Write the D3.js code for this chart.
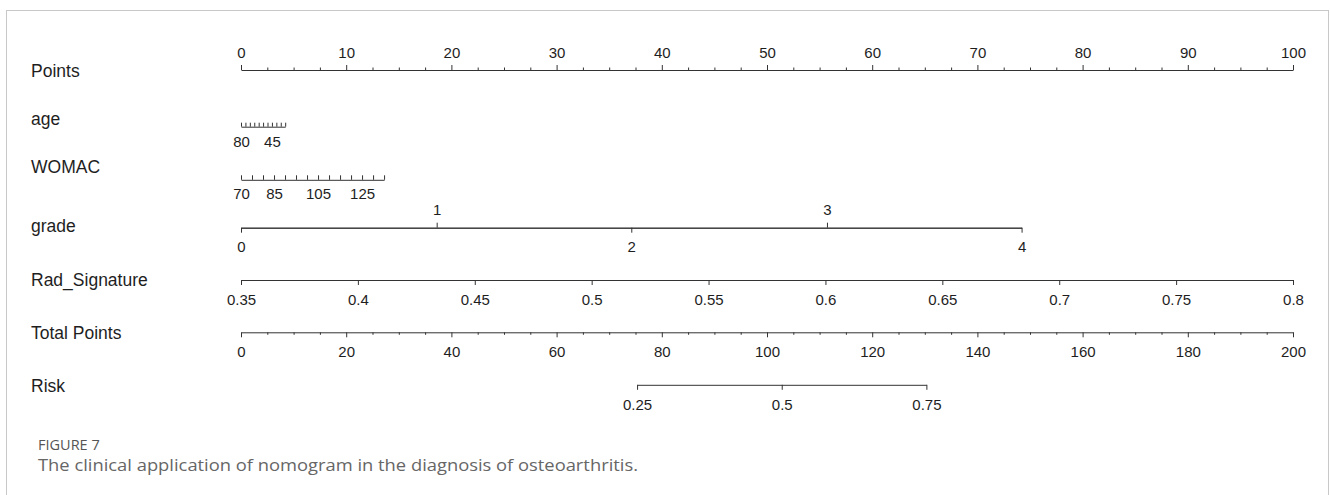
<!DOCTYPE html>
<html><head><meta charset="utf-8">
<script src="https://cdn.jsdelivr.net/npm/d3@7"></script>
<style>
html,body{margin:0;padding:0;background:#fff;}
svg{display:block;}
</style></head><body>
<svg id="chart" width="1330" height="495"></svg>
<script>
// ---------- data ----------
const rowLabels = ["Points","age","WOMAC","grade","Rad_Signature","Total Points","Risk"];

const pointsTicks = [0,10,20,30,40,50,60,70,80,90,100];
const pointsMinor = [2.5,5,7.5,12.5,15,17.5,22.5,25,27.5,32.5,35,37.5,42.5,45,47.5,52.5,55,57.5,62.5,65,67.5,72.5,75,77.5,82.5,85,87.5,92.5,95,97.5];

const ageValues = [80,75,70,65,60,55,50,45,40,35,30];
const ageLabels = [80,45];
const ageRange = [80,30];
const agePoints = [0,4.2];

const womacValues = [70,75,80,85,90,95,100,105,110,115,120,125,130,135];
const womacLabels = [70,85,105,125];
const womacRange = [70,135];
const womacPoints = [0,13.6];

const gradeValues = [0,1,2,3,4];
const gradePoints = [0,18.6,37.1,55.7,74.2];
const gradeLabelsTop = [1,3];
const gradeLabelsBottom = [0,2,4];

const radValues = [0.35,0.4,0.45,0.5,0.55,0.6,0.65,0.7,0.75,0.8];
const radRange = [0.35,0.8];
const radPoints = [0,100];

const totalTicks = [0,20,40,60,80,100,120,140,160,180,200];
const totalMinor = [5,10,15,25,30,35,45,50,55,65,70,75,85,90,95,105,110,115,125,130,135,145,150,155,165,170,175,185,190,195];

const riskValues = [0.25,0.5,0.75];
const riskTotalPoints = [75.3,102.8,130.3];

// ---------- layout ----------
const svg = d3.select("#chart");
const X0 = 241, X1 = 1293;
const xPoints = d3.scaleLinear().domain([0,100]).range([X0,X1]);
const xTotal = d3.scaleLinear().domain([0,200]).range([X0,X1]);
const FONT = "'Liberation Sans', Arial, Helvetica, sans-serif";
const INK = "#1e1e1e";
const LINE = "#333";

// frame
svg.append("rect").attr("x",6.5).attr("y",10.5).attr("width",1322).attr("height",520)
  .attr("fill","none").attr("stroke","#c8c8c8").attr("stroke-width",1);

// row labels
const labelBaselines = [76.7,125,173.3,232.3,286,339.3,391.7];
svg.selectAll("text.rowlab").data(rowLabels).join("text")
  .attr("class","rowlab")
  .attr("x",31).attr("y",(d,i)=>labelBaselines[i])
  .attr("font-family",FONT).attr("font-size",17.5).attr("fill",INK)
  .text(d=>d);

const fmt = d => String(+d.toFixed(3));

function drawAxis(y, scale, values, labels, orient, tickLen, labelOffset, showDomain=true) {
  const labelSet = new Set(labels);
  const axis = (orient === "top" ? d3.axisTop(scale) : d3.axisBottom(scale))
    .tickValues(values).tickSize(tickLen).tickSizeOuter(0)
    .tickFormat(d => labelSet.has(d) ? fmt(d) : "");
  const g = svg.append("g").attr("transform",`translate(0,${y})`).call(axis);
  g.select(".domain").attr("stroke",LINE).attr("stroke-width",1);
  if (!showDomain) g.select(".domain").remove();
  g.selectAll(".tick line").attr("stroke",LINE).attr("stroke-width",1);
  g.selectAll(".tick text")
    .attr("y",labelOffset).attr("dy","0.36em")
    .attr("font-family",FONT).attr("font-size",15).attr("fill",INK);
  return g;
}

// Points
drawAxis(70, xPoints, pointsTicks, pointsTicks, "top", 5, -17.3);
drawAxis(70, xPoints, pointsMinor, [], "top", 2.5, 0, false);

// age
const ageScale = d3.scaleLinear().domain(ageRange).range(agePoints.map(xPoints));
drawAxis(126.7, ageScale, ageValues, ageLabels, "top", 4, 15);

// WOMAC
const womacScale = d3.scaleLinear().domain(womacRange).range(womacPoints.map(xPoints));
drawAxis(179.8, womacScale, womacValues, womacLabels, "top", 4.5, 13.8);

// grade
const gradeScale = d3.scaleLinear().domain(gradeValues).range(gradePoints.map(xPoints));
drawAxis(227.7, gradeScale, gradeLabelsTop, gradeLabelsTop, "top", 5, -17.7);
drawAxis(227.7, gradeScale, gradeLabelsBottom, gradeLabelsBottom, "bottom", 5, 19.3);

// Rad_Signature
const radScale = d3.scaleLinear().domain(radRange).range(radPoints.map(xPoints));
drawAxis(280, radScale, radValues, radValues, "bottom", 5, 19.3);

// Total Points
drawAxis(332.3, xTotal, totalTicks, totalTicks, "bottom", 5, 19.4);
drawAxis(332.3, xTotal, totalMinor, [], "bottom", 2.5, 0, false);

// Risk
const riskScale = d3.scaleLinear().domain(riskValues).range(riskTotalPoints.map(xTotal));
drawAxis(384.8, riskScale, riskValues, riskValues, "bottom", 5, 19.5);

// caption
svg.append("text").attr("x",38).attr("y",450)
  .attr("font-family","'Open Sans', Lato, sans-serif").attr("font-size",14.5)
  .attr("fill","#555").text("FIGURE 7");
const cap = svg.append("text").attr("x",38).attr("y",471)
  .attr("font-family","'Open Sans', Lato, sans-serif").attr("font-size",16.5)
  .attr("fill","#666").text("The clinical application of nomogram in the diagnosis of osteoarthritis.");
const w = cap.node().getComputedTextLength();
if (w > 0) cap.attr("textLength",600).attr("lengthAdjust","spacingAndGlyphs");
</script>
</body></html>
